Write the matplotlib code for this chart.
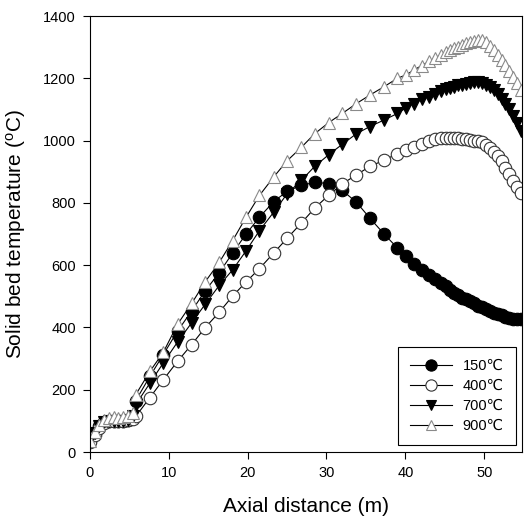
import matplotlib
matplotlib.use("Agg")
import matplotlib.pyplot as plt

plt.rcParams['font.family'] = ['Liberation Sans', 'DejaVu Sans']
plt.rcParams['mathtext.fontset'] = 'custom'
plt.rcParams['mathtext.rm'] = 'Liberation Sans'

# Axial positions (m)
distance = [0.0, 0.6, 1.2, 1.8, 2.4, 3.0, 3.6, 4.2, 4.8, 5.4,
            5.8, 7.6, 9.3, 11.1, 12.9, 14.6, 16.4, 18.1, 19.8, 21.5,
            23.3, 25.0, 26.8, 28.5, 30.3, 32.0, 33.8, 35.5, 37.3, 39.0,
            40.1, 41.1, 42.1, 43.0, 43.8, 44.5, 45.1, 45.7, 46.2, 46.7,
            47.2, 47.7, 48.2, 48.7, 49.2, 49.7, 50.2, 50.7, 51.2, 51.7,
            52.2, 52.7, 53.2, 53.7, 54.2, 54.7]

temp_150 = [38, 62, 85, 97, 100, 100, 100, 101, 103, 110,
            165, 243, 313, 388, 453, 517, 576, 639, 700, 754,
            804, 837, 856, 866, 862, 840, 802, 751, 700, 655,
            628, 604, 585, 569, 556, 543, 532, 521, 512, 503,
            496, 490, 484, 477, 470, 464, 458, 452, 447, 443,
            439, 435, 431, 428, 426, 426]

temp_400 = [33, 55, 78, 92, 98, 100, 100, 100, 102, 106,
            114, 175, 232, 291, 345, 399, 449, 501, 546, 589,
            639, 686, 735, 783, 825, 861, 890, 917, 937, 958,
            969, 979, 990, 998, 1004, 1007, 1008, 1008, 1008, 1007,
            1006, 1005, 1003, 1000, 998, 994, 986, 976, 964, 950,
            933, 913, 892, 871, 850, 832]

temp_700 = [38, 62, 84, 96, 100, 100, 100, 101, 104, 115,
            152, 221, 286, 353, 415, 474, 535, 585, 646, 711,
            770, 829, 872, 917, 955, 988, 1022, 1045, 1066, 1087,
            1105, 1119, 1132, 1141, 1151, 1158, 1164, 1169, 1173, 1177,
            1180, 1183, 1185, 1187, 1188, 1186, 1180, 1172, 1163, 1150,
            1135, 1118, 1100, 1080, 1055, 1030]

temp_900 = [35, 65, 88, 103, 110, 112, 110, 112, 116, 125,
            184, 259, 320, 410, 477, 546, 609, 679, 754, 824,
            883, 935, 978, 1022, 1058, 1087, 1119, 1146, 1173, 1200,
            1211, 1227, 1241, 1254, 1266, 1275, 1283, 1290, 1296, 1302,
            1307, 1312, 1316, 1320, 1323, 1324, 1317, 1305, 1290, 1275,
            1260, 1243, 1225, 1205, 1185, 1162]

labels = ['150\u2103', '400\u2103', '700\u2103', '900\u2103']
x_ticks = [0, 10, 20, 30, 40, 50]
y_ticks = [0, 200, 400, 600, 800, 1000, 1200, 1400]

W, H = 524, 521
fig = plt.figure(figsize=(W / 100, H / 100), dpi=100)
ax = fig.add_axes([90 / W, (H - 452) / H, 432 / W, 436 / H])

ms = 9
lw = 0.8
ax.plot(distance, temp_150, color='black', lw=lw, marker='o', ms=ms,
        mfc='black', mec='black', mew=0.8, label=labels[0])
ax.plot(distance, temp_400, color='black', lw=lw, marker='o', ms=ms,
        mfc='white', mec='#333333', mew=0.8, label=labels[1])
ax.plot(distance, temp_700, color='black', lw=lw, marker='v', ms=8.5,
        mfc='black', mec='black', mew=0.8, label=labels[2])
ax.plot(distance, temp_900, color='black', lw=lw, marker='^', ms=8.5,
        mfc='white', mec='#8a8a8a', mew=0.8, label=labels[3])

ax.set_xlim(0, 54.8)
ax.set_ylim(0, 1400)
ax.set_xticks(x_ticks)
ax.set_yticks(y_ticks)
ax.tick_params(direction='out', length=5, width=0.8, labelsize=10.5,
               top=False, right=False, colors='black', pad=5)
for s in ax.spines.values():
    s.set_linewidth(0.8)

ax.set_xlabel('Axial distance (m)', fontsize=15, labelpad=12)
ax.set_ylabel('Solid bed temperature ($\\mathregular{^{o}}$C)', fontsize=15, labelpad=11)

leg = ax.legend(loc='lower right', fontsize=10.5, frameon=True, fancybox=False,
                edgecolor='black', framealpha=1, handlelength=2.9,
                handletextpad=0.7, labelspacing=0.4, borderpad=0.85,
                borderaxespad=0, markerscale=0.9,
                bbox_to_anchor=(0.986, 0.016))
leg.get_frame().set_linewidth(0.8)

fig.savefig('out.png', dpi=100)
